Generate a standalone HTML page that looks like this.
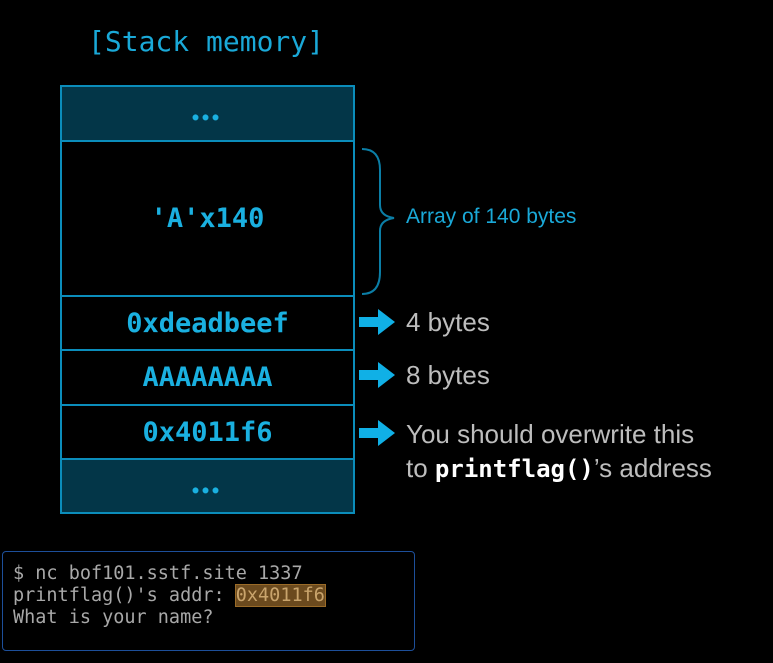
<!DOCTYPE html>
<html><head><meta charset="utf-8"><style>
body{margin:0;background:#000;width:773px;height:663px;position:relative;overflow:hidden;font-family:"Liberation Sans",sans-serif}
.mono{font-family:"DejaVu Sans Mono","Liberation Mono",monospace}
.cell{position:absolute;left:60px;width:295px;border:2px solid #0b8dbb;box-sizing:border-box;color:#1ab0e0;font-family:"DejaVu Sans Mono","Liberation Mono",monospace;font-size:27px;font-weight:bold;display:flex;align-items:center;justify-content:center}
.dark{background:#033648}
.lbl{position:absolute;color:#bdbdbd;font-size:26px}
.dots{margin-top:8px;font-size:10px;letter-spacing:4px}
</style></head><body>
<div class="mono" style="position:absolute;left:88px;top:25px;color:#1aa9d8;font-size:28px">[Stack memory]</div>
<div class="cell dark" style="top:85px;height:57px"><span class="dots">●●●</span></div>
<div class="cell" style="top:140px;height:157px">'A'x140</div>
<div class="cell" style="top:295px;height:56px">0xdeadbeef</div>
<div class="cell" style="top:349px;height:57px">AAAAAAAA</div>
<div class="cell" style="top:404px;height:56px">0x4011f6</div>
<div class="cell dark" style="top:458px;height:56px"><span class="dots">●●●</span></div>
<svg width="773" height="663" style="position:absolute;left:0;top:0">
<path d="M362 149 Q380 149 380 170 L380 205 Q380 216 394 218 Q380 220 380 231 L380 272 Q380 294 362 294" fill="none" stroke="#0b7ea6" stroke-width="2"/>
<g fill="#10b0e6">
<path d="M359 317h19v-8l17 13-17 13v-8h-19z"/>
<path d="M359 370h19v-8l17 13-17 13v-8h-19z"/>
<path d="M359 428h19v-8l17 13-17 13v-8h-19z"/>
</g>
</svg>
<div style="position:absolute;left:406px;top:205px;color:#1aa9d8;font-size:21px">Array of 140 bytes</div>
<div class="lbl" style="left:406px;top:307px">4 bytes</div>
<div class="lbl" style="left:406px;top:360px">8 bytes</div>
<div class="lbl" style="left:406px;top:419px">You should overwrite this</div>
<div class="lbl" style="left:406px;top:453px">to <b class="mono" style="color:#fff;font-size:24px">printflag()</b>’s address</div>
<div style="position:absolute;left:2px;top:551px;width:413px;height:100px;border:1px solid #1d4f9a;border-radius:4px;box-sizing:border-box"></div>
<div class="mono" style="position:absolute;left:13px;top:563px;color:#a8a8a8;font-size:18.5px;line-height:22px;white-space:pre">$ nc bof101.sstf.site 1337
printflag()'s addr: <span style="background:#6b4a1e;outline:1px solid #9a6b28;color:#c9a46c">0x4011f6</span>
What is your name?</div>
</body></html>
